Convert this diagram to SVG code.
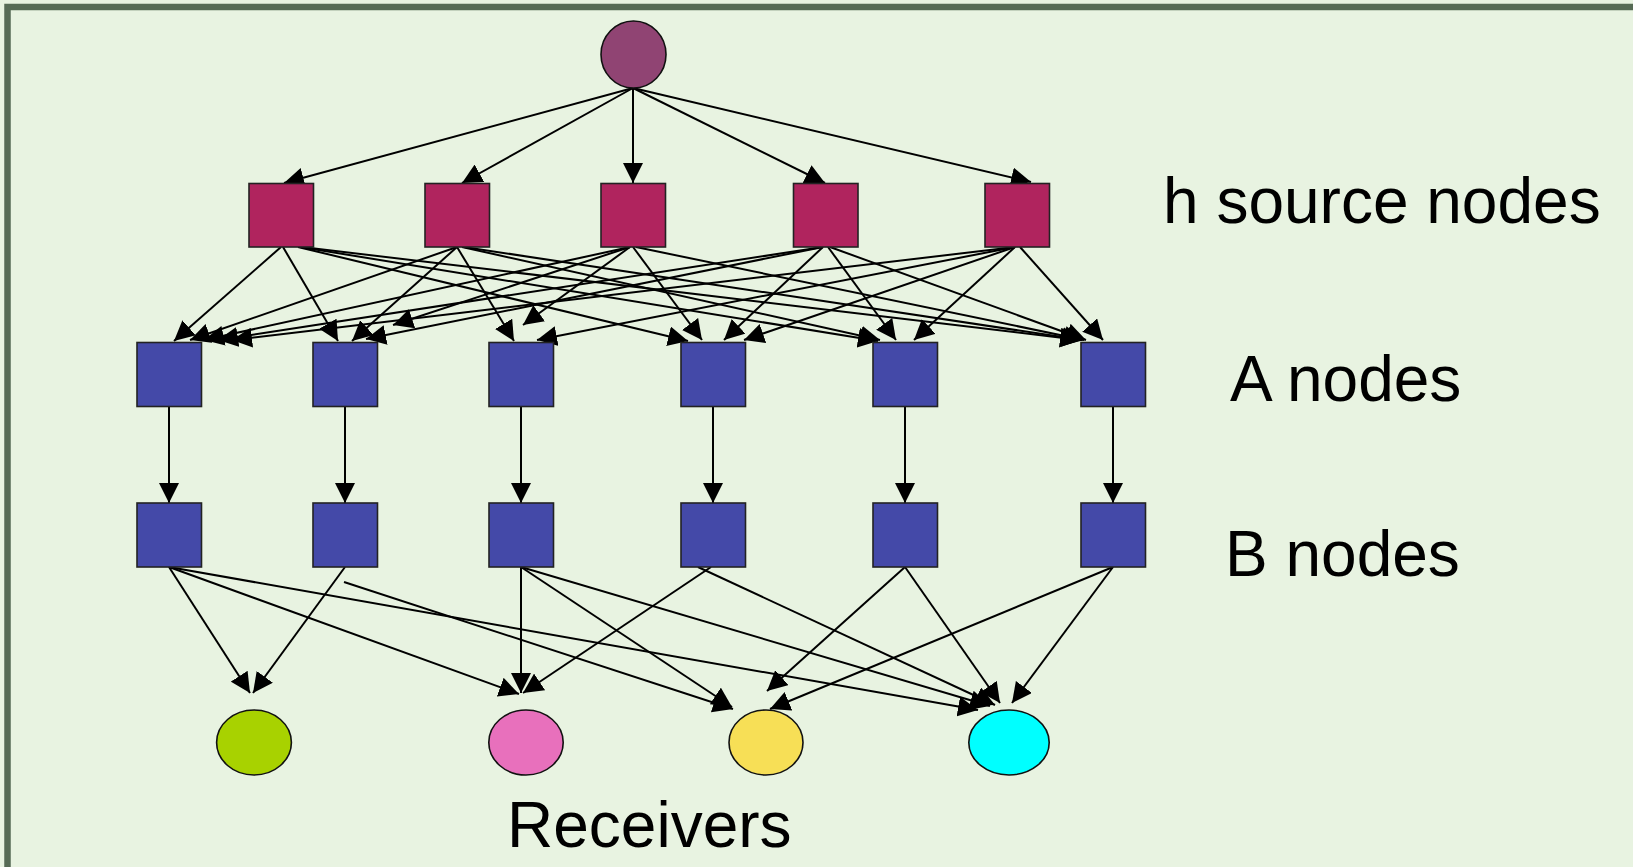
<svg xmlns="http://www.w3.org/2000/svg" width="1633" height="867" viewBox="0 0 1633 867">
  <style>
    .bg { fill: #e8f3e1; }
    .frame { fill: none; stroke: #566b55; stroke-width: 6.5; }
    .root { fill: #904473; stroke: #111; stroke-width: 1.6; }
    .src { fill: #b0245e; stroke: #222; stroke-width: 1.6; }
    .mid { fill: #4449a8; stroke: #222; stroke-width: 1.6; }
    .rcv { stroke: #111; stroke-width: 1.6; }
    .edge { fill: none; stroke: #000; stroke-width: 2; marker-end: url(#arrow); }
    .label { font-family: "Liberation Sans", Arial, sans-serif; font-size: 64px; fill: #000; }
  </style>
  <defs>
    <marker id="arrow" markerUnits="userSpaceOnUse" markerWidth="20" markerHeight="20" refX="20" refY="10" orient="auto" viewBox="0 0 20 20">
      <path d="M0,0 L20,10 L0,20 Z" fill="#000"/>
    </marker>
  </defs>

  <rect class="bg" x="0" y="0" width="1633" height="867"/>
  <rect class="frame" x="7.5" y="7" width="1700" height="900"/>

  <!-- connectors -->
  <g id="connectors">
    <!-- root to source nodes -->
    <line class="edge" x1="633" y1="88" x2="284" y2="183"/>
    <line class="edge" x1="633" y1="88" x2="462" y2="183"/>
    <line class="edge" x1="633" y1="88" x2="633" y2="183"/>
    <line class="edge" x1="633" y1="88" x2="825" y2="183"/>
    <line class="edge" x1="633" y1="88" x2="1031" y2="182"/>

    <!-- source nodes to A nodes -->
    <line class="edge" x1="281" y1="247" x2="174" y2="341"/>
    <line class="edge" x1="283" y1="247" x2="338" y2="341"/>
    <line class="edge" x1="298" y1="247" x2="688" y2="341"/>
    <line class="edge" x1="300" y1="247" x2="878" y2="341"/>
    <line class="edge" x1="302" y1="247" x2="1080" y2="340"/>

    <line class="edge" x1="457" y1="247" x2="190" y2="340"/>
    <line class="edge" x1="457" y1="247" x2="352" y2="341"/>
    <line class="edge" x1="457" y1="247" x2="514" y2="341"/>
    <line class="edge" x1="462" y1="247" x2="880" y2="340"/>
    <line class="edge" x1="464" y1="247" x2="1082" y2="340"/>

    <line class="edge" x1="630" y1="247" x2="204" y2="340"/>
    <line class="edge" x1="630" y1="247" x2="393" y2="325"/>
    <line class="edge" x1="630" y1="247" x2="523" y2="325"/>
    <line class="edge" x1="633" y1="247" x2="702" y2="340"/>
    <line class="edge" x1="636" y1="247" x2="1084" y2="340"/>

    <line class="edge" x1="823" y1="247" x2="218" y2="340"/>
    <line class="edge" x1="823" y1="247" x2="366" y2="339"/>
    <line class="edge" x1="823" y1="247" x2="724" y2="340"/>
    <line class="edge" x1="828" y1="247" x2="896" y2="340"/>
    <line class="edge" x1="830" y1="247" x2="1086" y2="340"/>

    <line class="edge" x1="1015" y1="247" x2="232" y2="340"/>
    <line class="edge" x1="1015" y1="247" x2="537" y2="340"/>
    <line class="edge" x1="1015" y1="247" x2="744" y2="340"/>
    <line class="edge" x1="1015" y1="247" x2="914" y2="340"/>
    <line class="edge" x1="1020" y1="247" x2="1103" y2="340"/>

    <!-- A nodes to B nodes -->
    <line class="edge" x1="169" y1="407" x2="169" y2="503"/>
    <line class="edge" x1="345" y1="407" x2="345" y2="503"/>
    <line class="edge" x1="521" y1="407" x2="521" y2="503"/>
    <line class="edge" x1="713" y1="407" x2="713" y2="503"/>
    <line class="edge" x1="905" y1="407" x2="905" y2="503"/>
    <line class="edge" x1="1113" y1="407" x2="1113" y2="503"/>

    <!-- B nodes to receivers -->
    <line class="edge" x1="169" y1="567" x2="250" y2="693"/>
    <line class="edge" x1="169" y1="567" x2="519" y2="694"/>
    <line class="edge" x1="169" y1="567" x2="978" y2="710"/>
    <line class="edge" x1="345" y1="567" x2="253" y2="693"/>
    <line class="edge" x1="344" y1="582" x2="733" y2="709"/>
    <line class="edge" x1="521" y1="567" x2="521" y2="693"/>
    <line class="edge" x1="521" y1="567" x2="732" y2="707"/>
    <line class="edge" x1="521" y1="567" x2="990" y2="706"/>
    <line class="edge" x1="711" y1="567" x2="523" y2="693"/>
    <line class="edge" x1="698" y1="567" x2="995" y2="705"/>
    <line class="edge" x1="905" y1="567" x2="767" y2="691"/>
    <line class="edge" x1="905" y1="567" x2="1000" y2="703"/>
    <line class="edge" x1="1113" y1="567" x2="770" y2="709"/>
    <line class="edge" x1="1113" y1="567" x2="1012" y2="703"/>
  </g>

  <!-- root -->
  <g id="root">
    <ellipse class="root" cx="633.5" cy="54.5" rx="32.5" ry="33.5"/>
  </g>

  <!-- source nodes -->
  <g id="s1"><rect class="src" x="249" y="183.5" width="64.5" height="63.5"/></g>
  <g id="s2"><rect class="src" x="425" y="183.5" width="64.5" height="63.5"/></g>
  <g id="s3"><rect class="src" x="601" y="183.5" width="64.5" height="63.5"/></g>
  <g id="s4"><rect class="src" x="793.5" y="183.5" width="64.5" height="63.5"/></g>
  <g id="s5"><rect class="src" x="985" y="183.5" width="64.5" height="63.5"/></g>

  <!-- A nodes -->
  <g id="a1"><rect class="mid" x="137" y="342.5" width="64.5" height="64"/></g>
  <g id="a2"><rect class="mid" x="313" y="342.5" width="64.5" height="64"/></g>
  <g id="a3"><rect class="mid" x="489" y="342.5" width="64.5" height="64"/></g>
  <g id="a4"><rect class="mid" x="681" y="342.5" width="64.5" height="64"/></g>
  <g id="a5"><rect class="mid" x="873" y="342.5" width="64.5" height="64"/></g>
  <g id="a6"><rect class="mid" x="1081" y="342.5" width="64.5" height="64"/></g>

  <!-- B nodes -->
  <g id="b1"><rect class="mid" x="137" y="503" width="64.5" height="64"/></g>
  <g id="b2"><rect class="mid" x="313" y="503" width="64.5" height="64"/></g>
  <g id="b3"><rect class="mid" x="489" y="503" width="64.5" height="64"/></g>
  <g id="b4"><rect class="mid" x="681" y="503" width="64.5" height="64"/></g>
  <g id="b5"><rect class="mid" x="873" y="503" width="64.5" height="64"/></g>
  <g id="b6"><rect class="mid" x="1081" y="503" width="64.5" height="64"/></g>

  <!-- receivers -->
  <g id="r1"><ellipse class="rcv" cx="254" cy="742.5" rx="37.4" ry="32.5" fill="#a8d200"/></g>
  <g id="r2"><ellipse class="rcv" cx="526" cy="742.5" rx="37.2" ry="32.5" fill="#e870bc"/></g>
  <g id="r3"><ellipse class="rcv" cx="766" cy="742.5" rx="37" ry="32.5" fill="#f7df56"/></g>
  <g id="r4"><ellipse class="rcv" cx="1009" cy="742.5" rx="40.2" ry="32.5" fill="#00ffff"/></g>

  <!-- layer labels -->
  <text class="label" x="1163" y="223">h source nodes</text>
  <text class="label" x="1230" y="401">A nodes</text>
  <text class="label" x="1225" y="576">B nodes</text>
  <text class="label" x="507" y="847">Receivers</text>
</svg>
